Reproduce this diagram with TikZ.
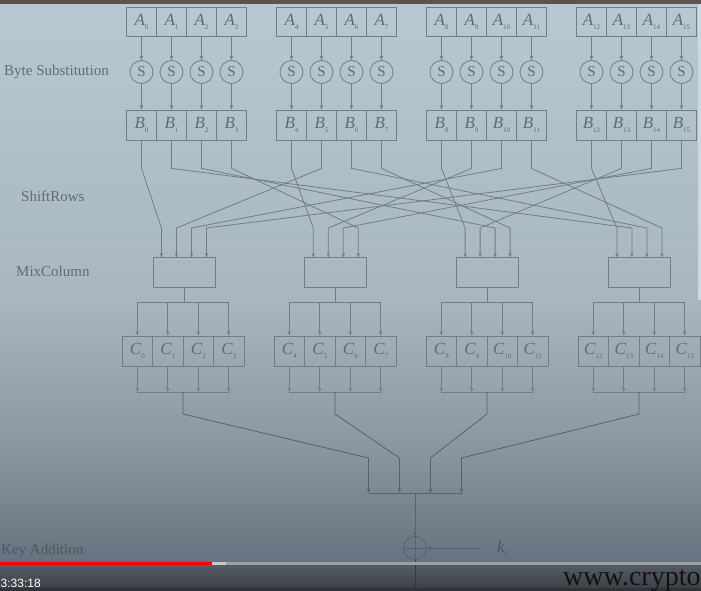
\documentclass[tikz,border=0pt]{standalone}
\usepackage{fontspec}
\setmainfont{Liberation Serif}
\newfontfamily\uifont{Liberation Sans}
\usetikzlibrary{arrows.meta}
\definecolor{bgtop}{HTML}{B6C9D3}
\definecolor{bgmid}{HTML}{A8B6BF}
\definecolor{bgmid2}{HTML}{8A95A0}
\definecolor{bglow}{HTML}{677280}
\definecolor{ln}{HTML}{737D86}
\definecolor{lnlow}{HTML}{59616A}
\definecolor{lnbot}{HTML}{4A5158}
\definecolor{tx}{HTML}{626C73}
\definecolor{txlow}{HTML}{4E555C}
\definecolor{barlight}{HTML}{C6C9CC}
\definecolor{barrest}{HTML}{9CA1A6}
\definecolor{ctrltop}{HTML}{555C64}
\definecolor{ctrlbot}{HTML}{3C4046}
\definecolor{topstrip}{HTML}{5B544E}
\definecolor{urltext}{HTML}{121212}
\newcommand\cl[2]{\textit{#1}\raisebox{-0.5ex}{\fontsize{7}{7}\selectfont #2}}
\tikzset{
  cellbox/.style={draw=ln, line width=0.8pt, minimum width=30pt, minimum height=30pt, inner sep=0pt, text=tx, font=\fontsize{17}{17}\selectfont},
  sbox/.style={draw=ln, line width=0.8pt, circle, minimum size=23pt, inner sep=0pt, text=tx, font=\fontsize{15}{15}\selectfont},
  mixbox/.style={draw=ln, line width=0.8pt, minimum width=62pt, minimum height=30pt, inner sep=0pt},
  xorbox/.style={draw=lnlow, line width=0.8pt, circle, minimum size=23pt, inner sep=0pt},
  wire/.style={draw=ln, line width=0.8pt},
  arr/.style={wire, -{Stealth[length=4.5pt,width=3.5pt]}},
  lowwire/.style={draw=lnlow, line width=0.8pt},
  lowarr/.style={lowwire, -{Stealth[length=4.5pt,width=3.5pt]}},
  lbl/.style={anchor=west, inner sep=0pt, text=tx, font=\fontsize{15}{15}\selectfont}
}
\begin{document}
\begin{tikzpicture}[x=1pt,y=-1pt]
\useasboundingbox (0,0) rectangle (701,591);
\clip (0,0) rectangle (701,591);
% background
\shade[top color=bgtop, bottom color=bgmid] (0,0) rectangle (701,300.5);
\shade[top color=bgmid, bottom color=bgmid2] (0,300) rectangle (701,450.5);
\shade[top color=bgmid2, bottom color=bglow] (0,450) rectangle (701,562);
\fill[topstrip] (0,0) rectangle (701,4);
\fill[bgtop!70!white] (698,4) rectangle (701,300);

% labels
\node[lbl] (lbs) at (4,72) {Byte Substitution};
\node[lbl] (lsr) at (21,196) {ShiftRows};
\node[lbl] (lmc) at (16,271) {MixColumn};
\node[lbl, text=txlow] (lka) at (1,551) {Key Addition};

% A, S, B rows
\foreach \g in {0,...,3}{
  \foreach \r in {0,...,3}{
    \pgfmathtruncatemacro\i{4*\g+\r}
    \pgfmathsetmacro\xa{126.5+150*\g+15+30*\r}
    \node[cellbox, minimum height=29pt] (A\i) at (\xa,21.5) {\cl{A}{\i}};
    \node[sbox] (S\i) at (\xa,72) {S};
    \node[cellbox] (B\i) at (\xa,125) {\cl{B}{\i}};
    \draw[arr] (A\i) -- (S\i);
    \draw[arr] (S\i) -- (B\i);
  }
}

% MixColumn boxes and their input points
\foreach \g in {0,...,3}{
  \pgfmathsetmacro\xm{184+151.8*\g}
  \node[mixbox] (M\g) at (\xm,272.5) {};
  \foreach \r in {0,...,3}{
    \pgfmathsetmacro\xi{\xm-22.5+15*\r}
    \coordinate (T\g-\r) at (\xi,228);
    \coordinate (I\g-\r) at (\xi,257.5);
  }
}

% ShiftRows wiring
\foreach \g in {0,...,3}{
  \foreach \r in {0,...,3}{
    \pgfmathtruncatemacro\i{4*\g+\r}
    \pgfmathtruncatemacro\c{mod(\g-\r+4,4)}
    \draw[arr] (B\i.south) -- ++(0,28) -- (T\c-\r) -- (I\c-\r);
  }
}

% C row with fan-out and fan-in
\foreach \g in {0,...,3}{
  \pgfmathsetmacro\xm{184+151.8*\g}
  \pgfmathsetmacro\xc{122+152*\g}
  \pgfmathsetmacro\xg{\xc+61}
  \foreach \r in {0,...,3}{
    \pgfmathtruncatemacro\i{4*\g+\r}
    \pgfmathsetmacro\xx{\xc+15.25+30.5*\r}
    \node[cellbox, minimum width=30.5pt] (C\i) at (\xx,351) {\cl{C}{\i}};
  }
  \pgfmathtruncatemacro\fa{4*\g}
  \pgfmathtruncatemacro\fb{4*\g+3}
  \coordinate (F\g) at (\xm,302);
  \draw[wire] (M\g.south) -- (F\g);
  \draw[wire] (C\fa.center |- F\g) -- (C\fb.center |- F\g);
  \coordinate (G\g) at (\xg,392);
  \draw[wire] (C\fa.center |- G\g) -- (C\fb.center |- G\g);
  \foreach \r in {0,...,3}{
    \pgfmathtruncatemacro\i{4*\g+\r}
    \draw[arr] (C\i.center |- F\g) -- (C\i.north);
    \draw[arr] (C\i.south) -- (C\i.center |- G\g);
  }
  \pgfmathsetmacro\xt{368.5+31*\g}
  \coordinate (P\g) at (\xt,458);
  \coordinate (Q\g) at (\xt,493);
  \draw[lowarr] (G\g) -- ++(0,22) -- (P\g) -- (Q\g);
}
\draw[lowwire] (Q0) -- (Q3);
\coordinate (J) at (415,493);

% key addition
\node[xorbox] (X) at (415,548) {};
\draw[lowwire] (X.north) -- (X.south);
\draw[lowwire] (X.west) -- (X.east);
\draw[lowarr] (J) -- (X.north);
\coordinate (K) at (480,548);
\draw[lowarr] (K) -- (X.east);
\node[inner sep=0pt, text=txlow, font=\fontsize{17}{17}\selectfont] (k) at (502,549) {\cl{k}{i}};

% video overlay
\shade[top color=ctrltop, bottom color=ctrlbot] (0,565) rectangle (701,588);
\fill[ctrlbot!80!black] (0,588) rectangle (701,591);
\coordinate (O) at (415,589);
\draw[lowarr, draw=lnbot!70!black] (X.south) -- (O);
\fill[red] (0,562) rectangle (212,565);
\fill[barlight] (212,562) rectangle (226,565);
\fill[barrest] (226,562) rectangle (701,565);
\node[anchor=base west, inner sep=0pt, text=white, font=\uifont\fontsize{12}{12}\selectfont] (ts) at (0.5,587.5) {3:33:18};
\node[anchor=base west, inner sep=0pt, text=urltext, font=\fontsize{28}{28}\selectfont] (url) at (563,585) {www.crypto};
\end{tikzpicture}
\end{document}
